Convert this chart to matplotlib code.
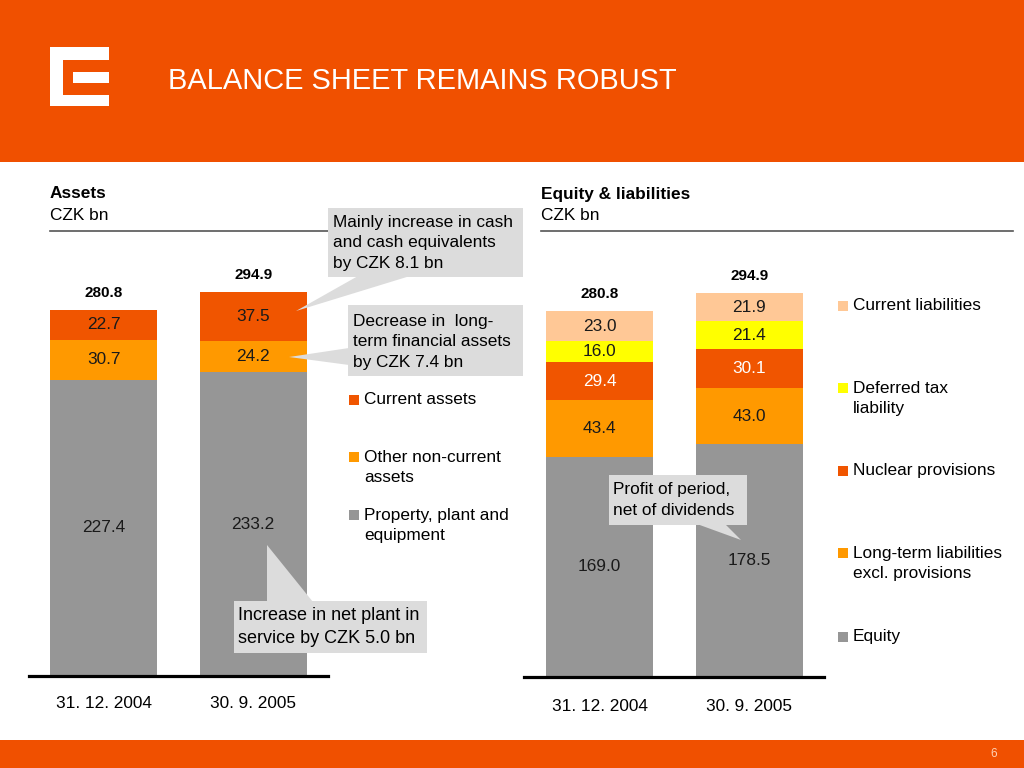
import matplotlib
matplotlib.use("Agg")
import matplotlib.pyplot as plt
from matplotlib.patches import Rectangle, Polygon

plt.rcParams['font.family'] = ['Liberation Sans', 'DejaVu Sans']

# ---------------- data ----------------
dates = ["31. 12. 2004", "30. 9. 2005"]

asset_names = ["Current assets", "Other non-current\nassets", "Property, plant and\nequipment"]
ppe = [227.4, 233.2]
other_noncurrent = [30.7, 24.2]
current_assets = [22.7, 37.5]
assets_total = [280.8, 294.9]

liab_names = ["Current liabilities", "Deferred tax\nliability", "Nuclear provisions",
              "Long-term liabilities\nexcl. provisions", "Equity"]
equity = [169.0, 178.5]
lt_liabilities = [43.4, 43.0]
nuclear_prov = [29.4, 30.1]
deferred_tax = [16.0, 21.4]
current_liab = [23.0, 21.9]
liab_total = [280.8, 294.9]

title = "BALANCE SHEET REMAINS ROBUST"

# ---------------- style ----------------
HDR = '#F05000'
RED = '#F05500'
ORANGE = '#FF9900'
PEACH = '#FFC896'
YELLOW = '#FFFF00'
GRAY = '#969696'
BOX = '#DCDCDC'
FS = 12.4
LS = 1.42

W, H = 1024, 768
fig = plt.figure(figsize=(W / 100, H / 100), dpi=100)
fig.patch.set_facecolor('white')


def rect(x0, y0, x1, y1):
    return [x0 / W, 1 - y1 / H, (x1 - x0) / W, (y1 - y0) / H]


SCALE = 1.303  # px per CZK bn


def stacked(ax, series, colors, txtcolors, totals, pad):
    bottom = [0.0] * len(dates)
    xs = list(range(len(dates)))
    bc = None
    for vals, c, tc in zip(series, colors, txtcolors):
        bc = ax.bar(xs, vals, width=0.716, bottom=bottom, color=c, linewidth=0)
        ax.bar_label(bc, labels=[f"{v:.1f}" for v in vals], label_type='center',
                     color=tc, fontsize=FS)
        bottom = [b + v for b, v in zip(bottom, vals)]
    ax.bar_label(bc, labels=[f"{t:.1f}" for t in totals], padding=7,
                 fontsize=11, fontweight='bold', color='black')
    ax.set_xticks(xs)
    ax.set_xticklabels(dates, fontsize=FS)
    ax.tick_params(axis='x', length=0, pad=pad)
    ax.set_yticks([])
    for s in ['top', 'left', 'right']:
        ax.spines[s].set_visible(False)
    ax.spines['bottom'].set_linewidth(2.3)
    ax.spines['bottom'].set_color('black')
    ax.patch.set_alpha(0)


axL = fig.add_axes(rect(29, 240, 328, 676))
axL.set_xlim(-0.5, 1.5)
axL.set_ylim(0, (676 - 240) / SCALE)
stacked(axL, [ppe, other_noncurrent, current_assets], [GRAY, ORANGE, RED],
        ['#1a1a1a', '#1a1a1a', '#1a1a1a'], assets_total, 14.5)

axR = fig.add_axes(rect(524, 240, 824, 677))
axR.set_xlim(-0.505, 1.5)
axR.set_ylim(0, (677 - 240) / SCALE)
stacked(axR, [equity, lt_liabilities, nuclear_prov, deferred_tax, current_liab],
        [GRAY, ORANGE, RED, YELLOW, PEACH],
        ['#1a1a1a', '#1a1a1a', 'white', '#1a1a1a', '#1a1a1a'], liab_total, 15.5)

# ---------------- overlay (pixel coordinates) ----------------
ov = fig.add_axes([0, 0, 1, 1], zorder=10)
ov.set_xlim(0, W)
ov.set_ylim(H, 0)
ov.axis('off')
ov.patch.set_alpha(0)

# header & footer
ov.add_patch(Rectangle((0, 0), W, 162, color=HDR, lw=0))
ov.add_patch(Rectangle((0, 740), W, 28, color=HDR, lw=0))
ov.text(994, 754, "6", color='#FFD2B4', fontsize=8.5, ha='center', va='center')

# logo
ov.add_patch(Rectangle((50, 47), 59, 59, color='white', lw=0))
ov.add_patch(Rectangle((63, 60), 46, 35, color=HDR, lw=0))
ov.add_patch(Rectangle((73, 72), 36, 11, color='white', lw=0))

ov.text(168, 81, title, color='white', fontsize=20.9, ha='left', va='center')

# section headings
ov.text(50, 194, "Assets", fontsize=FS, fontweight='bold', va='center')
ov.text(50, 215, "CZK bn", fontsize=FS, va='center')
ov.text(541, 194, "Equity & liabilities", fontsize=FS, fontweight='bold', va='center')
ov.text(541, 215, "CZK bn", fontsize=FS, va='center')
ov.plot([50, 522], [231, 231], color='#555555', lw=1.2)
ov.plot([541, 1013], [231, 231], color='#555555', lw=1.2)


# legends
def legend(x, entries, colors, ys):
    for name, c, y in zip(entries, colors, ys):
        n = name.count("\n")
        ov.add_patch(Rectangle((x, y - 5), 10, 10, color=c, lw=0))
        ov.text(x + 15, y + n * 10.2, name, fontsize=FS, va='center', ha='left',
                linespacing=LS)


legend(349, asset_names, [RED, ORANGE, GRAY], [400, 457, 515])
legend(838, liab_names, [PEACH, YELLOW, RED, ORANGE, GRAY], [306, 388, 471, 553, 637])


# callouts
def callout(box, tri, text, tx, ty, fs=FS):
    x0, y0, x1, y1 = box
    ov.add_patch(Rectangle((x0, y0), x1 - x0, y1 - y0, color=BOX, lw=0, zorder=3))
    ov.add_patch(Polygon(tri, closed=True, color=BOX, lw=0, zorder=3))
    ov.text(tx, ty, text, fontsize=fs, va='center', ha='left', zorder=4,
            linespacing=LS)


callout((328, 208, 523, 277), [(358, 276), (410, 276), (296, 311)],
        "Mainly increase in cash\nand cash equivalents\nby CZK 8.1 bn", 333, 243)
callout((348, 305, 523, 376), [(349, 348), (349, 365), (289, 357)],
        "Decrease in  long-\nterm financial assets\nby CZK 7.4 bn", 353, 342)
callout((234, 601, 427, 653), [(267, 545), (267, 602), (313, 602)],
        "Increase in net plant in\nservice by CZK 5.0 bn", 238, 627, fs=13)
callout((609, 475, 747, 525), [(697, 524), (725, 524), (741, 540)],
        "Profit of period,\nnet of dividends", 613, 500)

fig.savefig("out.png", dpi=100)
